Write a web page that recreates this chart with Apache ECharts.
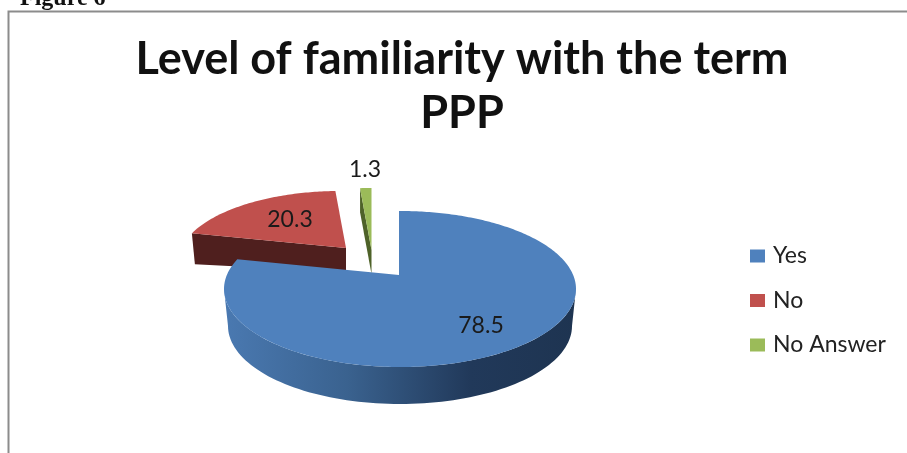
<!DOCTYPE html>
<html><head><meta charset="utf-8">
<style>html,body{margin:0;padding:0;background:#fff}#c{width:907px;height:453px}</style>
<script src="https://cdn.jsdelivr.net/npm/echarts@6/dist/echarts.min.js"></script>
</head><body><div id="c"></div>
<script>
const categories = ['Yes', 'No', 'No Answer'];
const values = [78.5, 20.3, 1.3];
const chartTitle = 'Level of familiarity with the term\nPPP';
const caption = 'Figure 6';

const colors = ['#4f81bd', '#c0504d', '#9bbb59'];
const dark = ['#1f3552', '#4f1f1e', '#4e6229'];
// layout per slice: apex, top ellipse, extrusion depth, far-corner extrusion
const layout = [
  {ax:399, ay:275, cx:400, cy:289, rx:176, ry:78, depth:24, edx:0, edy:24, lx:481, ly:326},
  {ax:346, ay:248, cx:340, cy:262, rx:162, ry:71, depth:24, edx:3, edy:31, lx:290, ly:220},
  {ax:371.5, ay:250, cx:370, cy:253, rx:147, ry:65, depth:24, edx:0, edy:24, lx:365, ly:170}
];
const wall = {cx:400, cy:326, rx:172, ry:78};
const total = values.reduce((a, b) => a + b, 0);

function rim(g, deg) {
  const t = deg * Math.PI / 180;
  const dx = Math.sin(t) * g.rx, dy = -Math.cos(t) * g.ry;
  const ox = (g.ax - g.cx) / g.rx, oy = (g.ay - g.cy) / g.ry;
  const px = dx / g.rx, py = dy / g.ry;
  const a = px * px + py * py, b = 2 * (ox * px + oy * py), c = ox * ox + oy * oy - 1;
  const s = (-b + Math.sqrt(b * b - 4 * a * c)) / (2 * a);
  return [g.ax + dx * s, g.ay + dy * s];
}

function renderSlice(params, api) {
  const i = params.seriesIndex;
  const g = layout[i];
  let before = 0;
  for (let k = 0; k < i; k++) before += values[k];
  const start = before / total * 360;
  const end = (before + api.value(0)) / total * 360;
  const arc = [];
  for (let d = start; d <= end; d += 1) arc.push(rim(g, d));
  arc.push(rim(g, end));
  const children = [];
  const first = arc[0], apex = [g.ax, g.ay];
  const fill = dark[i];
  // cut face along the slice's start edge
  children.push({type:'polygon', shape:{points:[
    first, apex, [g.ax, g.ay + g.depth], [first[0] + g.edx, first[1] + g.edy]
  ]}, style:{fill}});
  if (i === 0) {
    // outer wall
    const topEdge = [], botEdge = [];
    for (let d = 90; d <= 270; d += 2) {
      const t = d * Math.PI / 180;
      const s = Math.sin(t), c = -Math.cos(t);
      topEdge.push([g.cx + s * g.rx, g.cy + c * g.ry]);
      botEdge.unshift([wall.cx + s * wall.rx, wall.cy + c * wall.ry]);
    }
    children.push({type:'polygon', shape:{points:topEdge.concat(botEdge)}, style:{
      fill:{type:'linear', x:0, y:0, x2:1, y2:0, colorStops:[
        {offset:0, color:'#4a79b1'},{offset:0.35, color:'#3a628f'},
        {offset:0.7, color:'#21395a'},{offset:1, color:'#1e3451'}]}
    }});
  }
  children.push({type:'polygon', shape:{points:[apex].concat(arc)}, style:{fill:colors[i]}});
  children.push({type:'text', x:g.lx, y:g.ly, style:{
    text:String(api.value(0)), fill:'#1a1a1a', font:'23px Lato', align:'center', verticalAlign:'middle'
  }});
  return {type:'group', children};
}

const chart = echarts.init(document.getElementById('c'), null, {renderer:'canvas'});
chart.setOption({
  animation:false,
  backgroundColor:'#fff',
  title:{text:chartTitle, left:457, top:27, textAlign:'center',
    textStyle:{fontFamily:'Lato', fontWeight:'bold', fontSize:45, lineHeight:54, color:'#111'}},
  legend:{orient:'vertical', left:745, top:239.5, icon:'rect', itemWidth:15, itemHeight:13, itemGap:21.5, itemStyle:{borderWidth:0},
    selectedMode:false, data:categories,
    textStyle:{fontFamily:'Lato', fontSize:23, color:'#222', padding:[0,0,0,3]}},
  graphic:[
    {type:'polyline', shape:{points:[[8.5,453],[8.5,11.5],[907,11.5]]}, style:{stroke:'#8c8c8c', lineWidth:2, fill:null}},
    {type:'text', x:20, y:-13, style:{text:caption, font:'bold 24px "Liberation Serif"', fill:'#111'}}
  ],
  series:categories.map((name, i) => ({
    type:'custom', name, coordinateSystem:'none', z:[4,3,2][i],
    itemStyle:{color:colors[i]}, silent:true,
    data:[[values[i]]], renderItem:renderSlice
  }))
});
</script></body></html>
